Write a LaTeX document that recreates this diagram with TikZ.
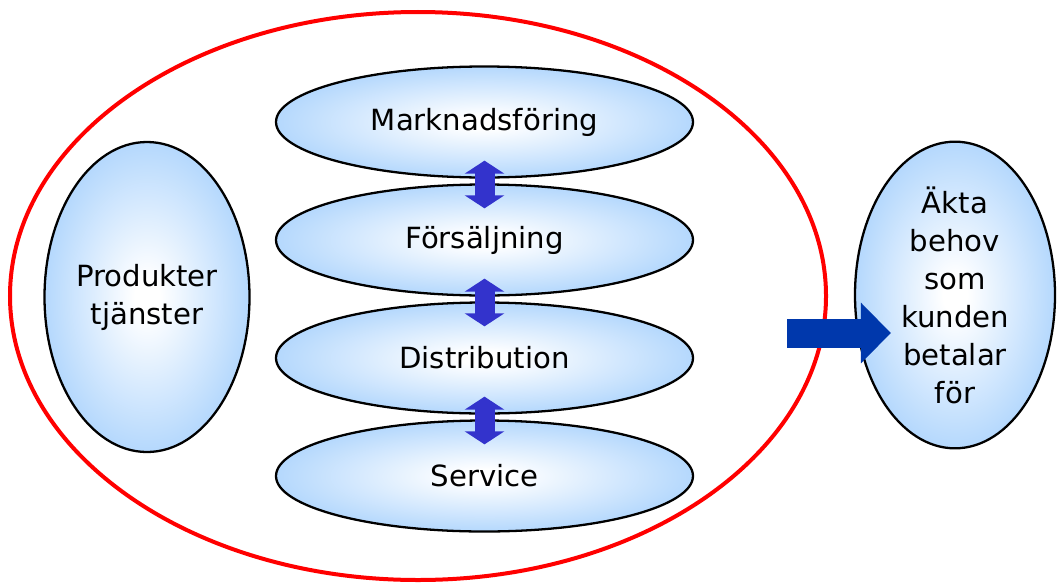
\documentclass[tikz,border=0pt]{standalone}
\usepackage{fontspec}
\setmainfont{DejaVu Sans}
\usetikzlibrary{arrows.meta,positioning,shapes.geometric}

\definecolor{bubbleblue}{RGB}{150,200,252}
\definecolor{linkblue}{RGB}{51,51,204}
\definecolor{goalblue}{RGB}{0,56,172}

\pgfdeclareradialshading{bubble}{\pgfpoint{0bp}{0bp}}{%
  color(0bp)=(white); color(3bp)=(white);
  color(34bp)=(bubbleblue); color(50bp)=(bubbleblue)}

\begin{document}
\begin{tikzpicture}[node distance=2.36cm,
  font=\fontsize{16.6}{21.6}\selectfont,
  bubble/.style={ellipse,draw,line width=1.3pt,shading=bubble,
  align=center,inner sep=0pt},
  stage node/.style={bubble,minimum width=8.34cm,minimum height=2.22cm},
  side node/.style={bubble,minimum width=4.1cm,minimum height=6.2cm},
  link/.style={linkblue,line width=0.4cm,
  {Triangle[length=0.26cm,width=0.78cm]}-{Triangle[length=0.26cm,width=0.78cm]},
  shorten <=-0.36cm,shorten >=-0.5cm},
  goal arrow/.style={goalblue,line width=0.58cm,
  -{Triangle[length=0.6cm,width=1.18cm]},shorten >=-0.74cm}]

  \useasboundingbox (0,0) rectangle (21.14,-11.66);

  \node[ellipse,draw=red,line width=0.08cm,minimum width=16.32cm,
    minimum height=11.36cm] (firm) at (8.36,-5.92) {};
  \node[side node] (prod) at (2.94,-5.94) {Produkter\\tjänster};
  \node[stage node] (mark) at (9.69,-2.44) {Marknadsföring};
  \node[stage node] (fors) [below of=mark] {Försäljning};
  \node[stage node] (dist) [below of=fors] {Distribution};
  \node[stage node] (serv) [below of=dist] {Service};
  \node[side node,minimum width=4cm,minimum height=6.12cm] (need)
    at (19.1,-5.9) {Äkta\\behov\\som\\kunden\\betalar\\för};

  \path
    (mark) edge[link] (fors)
    (fors) edge[link] (dist)
    (dist) edge[link] (serv);

  \coordinate (tail) at (15.74,-6.66);
  \draw[goal arrow] (tail) -- (need.west |- tail);
\end{tikzpicture}
\end{document}
